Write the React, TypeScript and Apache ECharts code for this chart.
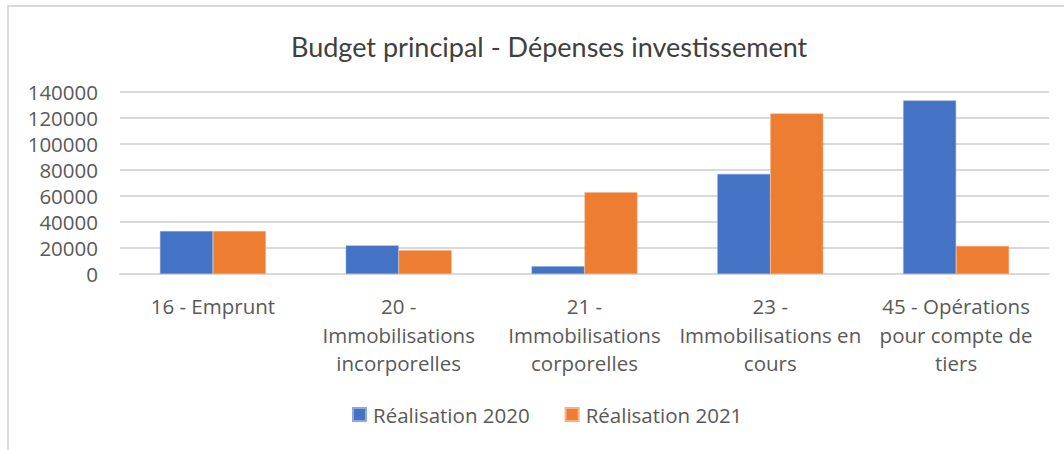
import React, { useEffect, useRef } from "react";
import * as echarts from "echarts";

const categories = [
  "16 - Emprunt",
  "20 -\nImmobilisations\nincorporelles",
  "21 -\nImmobilisations\ncorporelles",
  "23 -\nImmobilisations en\ncours",
  "45 - Opérations\npour compte de\ntiers",
];
const real2020 = [33000, 22000, 5900, 77000, 133500];
const real2021 = [33000, 18300, 62800, 123500, 21600];
const seriesNames = ["Réalisation 2020", "Réalisation 2021"];
const titleText = "Budget principal - Dépenses investissement";

export default function App() {
  const ref = useRef<HTMLDivElement>(null);
  useEffect(() => {
    if (!ref.current) return;
    const chart = echarts.init(ref.current, null, { renderer: "svg" });
    chart.setOption({
      animation: false,
      backgroundColor: "#ffffff",
      title: {
        text: titleText,
        left: 286,
        top: 28,
        textStyle: {
          fontFamily: "Lato",
          fontWeight: 400,
          fontSize: 27,
          color: "#404040",
        },
      },
      legend: {
        bottom: 20,
        left: 347,
        itemWidth: 13,
        itemHeight: 13,
        itemGap: 35,
        icon: "rect",
        textStyle: { fontFamily: "Open Sans", fontSize: 20.5, color: "#595959", padding: [0, 0, 0, 2] },
        data: seriesNames,
      },
      grid: { left: 120, right: 15, top: 92, bottom: 176 },
      xAxis: {
        type: "category",
        data: categories,
        axisLine: { show: true, lineStyle: { color: "#d9d9d9", width: 2 } },
        axisTick: { show: false },
        axisLabel: {
          fontFamily: "Open Sans",
          fontSize: 20.5,
          color: "#595959",
          lineHeight: 28.5,
          margin: 18,
          interval: 0,
          verticalAlign: "top",
        },
      },
      yAxis: {
        type: "value",
        min: 0,
        max: 140000,
        interval: 20000,
        axisLine: { show: false },
        axisTick: { show: false },
        splitLine: { lineStyle: { color: "#d9d9d9", width: 2 } },
        axisLabel: {
          fontFamily: "Open Sans",
          fontSize: 20.5,
          color: "#595959",
          margin: 22,
          formatter: (v: number) => String(v),
        },
      },
      series: [
        {
          name: seriesNames[0],
          type: "bar",
          data: real2020,
          barGap: "0%",
          barCategoryGap: "43%",
          itemStyle: { color: "#4472C4", borderColor: "#8EA9DB", borderWidth: 0.5 },
        },
        {
          name: seriesNames[1],
          type: "bar",
          data: real2021,
          barGap: "0%",
          barCategoryGap: "43%",
          itemStyle: { color: "#ED7D31", borderColor: "#F4B183", borderWidth: 0.5 },
        },
      ],
      graphic: [
        { type: "line", shape: { x1: 7, y1: 6, x2: 1064, y2: 6 }, style: { stroke: "#d9d9d9", lineWidth: 2 } },
        { type: "line", shape: { x1: 8, y1: 5, x2: 8, y2: 450 }, style: { stroke: "#d9d9d9", lineWidth: 2 } },
      ],
    });
    return () => chart.dispose();
  }, []);
  return <div ref={ref} style={{ width: 1064, height: 450, position: "absolute", left: 0, top: 0 }} />;
}
